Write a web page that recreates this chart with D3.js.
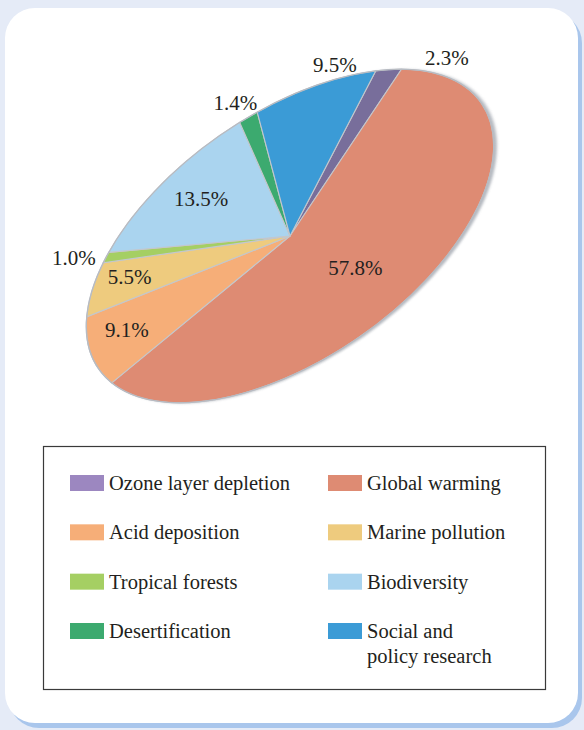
<!DOCTYPE html>
<html>
<head>
<meta charset="utf-8">
<script src="https://cdn.jsdelivr.net/npm/d3@7"></script>
</head>
<body style="margin:0;background:#e5ebf7">
<svg id="chart" width="584" height="730" style="display:block;font-family:'Times New Roman'"></svg>
<script>
// Research funding shares by topic (%)
const categories = ["Ozone layer depletion", "Global warming", "Acid deposition", "Marine pollution",
                    "Tropical forests", "Biodiversity", "Desertification", "Social and policy research"];
const values = [2.3, 57.8, 9.1, 5.5, 1.0, 13.5, 1.4, 9.5];
const legendLines = [["Ozone layer depletion"], ["Global warming"], ["Acid deposition"], ["Marine pollution"],
                     ["Tropical forests"], ["Biodiversity"], ["Desertification"], ["Social and", "policy research"]];
const sliceColors = ["#786e9b", "#de8b73", "#f6ae78", "#eecb7e", "#a5cf63", "#aad4ef", "#3caa6f", "#3b9bd6"];
const swatchColors = ["#9c87c0", "#de8b73", "#f6ae78", "#eecb7e", "#a5cf63", "#aad4ef", "#3caa6f", "#3b9bd6"];

// label placement: radius factor along the slice's mid-angle, plus a small nudge
const labelK = [1, 0.5, 0.82, 0.8, 1, 0.7, 1, 1];
const labelNudge = [[58, -12], [-4, 11], [0, -4], [-2, -3], [-32, 0], [0, 0], [-13, -15], [17, -20]];

const INK = "#231f20";

const svg = d3.select("#chart");
const defs = svg.append("defs");
defs.append("filter").attr("id", "soft").attr("x", "-10%").attr("y", "-10%").attr("width", "120%").attr("height", "120%")
  .append("feGaussianBlur").attr("stdDeviation", 1.6);

// card with blue drop edge
svg.append("rect").attr("x", 9).attr("y", 13).attr("width", 573).attr("height", 715).attr("rx", 30)
  .attr("fill", "#a9c6ec");
svg.append("rect").attr("x", 5).attr("y", 8).attr("width", 573).attr("height", 715).attr("rx", 30)
  .attr("fill", "#ffffff");

// tilted elliptical pie
const cx = 290, cy = 236, A = 233, B = 122.6, tilt = -34.8;
const pie = d3.pie().sort(null).value(d => d).startAngle(45 * Math.PI / 180).endAngle(405 * Math.PI / 180);
const arcs = pie(values);
const arc = d3.arc().innerRadius(0).outerRadius(A);

const g = svg.append("g").attr("transform", `translate(${cx},${cy}) rotate(${tilt}) scale(1,${B / A})`);
g.append("circle").attr("cx", 2.5).attr("cy", 4).attr("r", A)
  .attr("fill", "#9ca2ab").attr("opacity", 0.75).attr("filter", "url(#soft)");
g.selectAll("path.slice").data(arcs).join("path")
  .attr("class", "slice")
  .attr("d", arc)
  .attr("fill", (d, i) => sliceColors[i])
  .attr("stroke", "#c4c7cc")
  .attr("stroke-width", 1.1)
  .attr("vector-effect", "non-scaling-stroke");
g.append("circle").attr("r", A).attr("fill", "none")
  .attr("stroke", "#b7bbc2").attr("stroke-width", 1.3).attr("vector-effect", "non-scaling-stroke");

// map a pie-space angle/radius to the page
const rad = tilt * Math.PI / 180;
function toPage(angle, k) {
  const u = k * A * Math.sin(angle), v = -k * B * Math.cos(angle);
  return [cx + u * Math.cos(rad) - v * Math.sin(rad), cy + u * Math.sin(rad) + v * Math.cos(rad)];
}
const fmt = d3.format(".1f");
svg.selectAll("text.pct").data(arcs).join("text")
  .attr("class", "pct")
  .attr("fill", INK)
  .attr("text-anchor", "middle")
  .attr("dy", "0.35em")
  .attr("font-size", 21)
  .each(function (d, i) {
    const p = toPage((d.startAngle + d.endAngle) / 2, labelK[i]);
    d3.select(this).attr("x", p[0] + labelNudge[i][0]).attr("y", p[1] + labelNudge[i][1]);
  })
  .text(d => fmt(d.value) + "%");

// legend
const lg = svg.append("g");
lg.append("rect").attr("x", 43.5).attr("y", 446.5).attr("width", 502).attr("height", 243)
  .attr("fill", "#ffffff").attr("stroke", "#3a3a3a").attr("stroke-width", 1.2);
const colX = d3.scaleOrdinal().domain([0, 1]).range([70, 328]);
const rowY = d3.scalePoint().domain([0, 1, 2, 3]).range([483, 631]);
const items = lg.selectAll("g.item").data(categories).join("g").attr("class", "item")
  .attr("transform", (d, i) => `translate(${colX(i % 2)},${rowY(Math.floor(i / 2))})`);
items.append("rect").attr("x", 0).attr("y", -8).attr("width", 34).attr("height", 16)
  .attr("fill", (d, i) => swatchColors[i]);
items.each(function (d, i) {
  const t = d3.select(this).append("text").attr("x", 39).attr("y", 7)
    .attr("fill", INK).attr("font-size", 20.5);
  legendLines[i].forEach((line, j) => {
    t.append("tspan").attr("x", 39).attr("dy", j === 0 ? 0 : 25).text(line);
  });
});
</script>
</body>
</html>
